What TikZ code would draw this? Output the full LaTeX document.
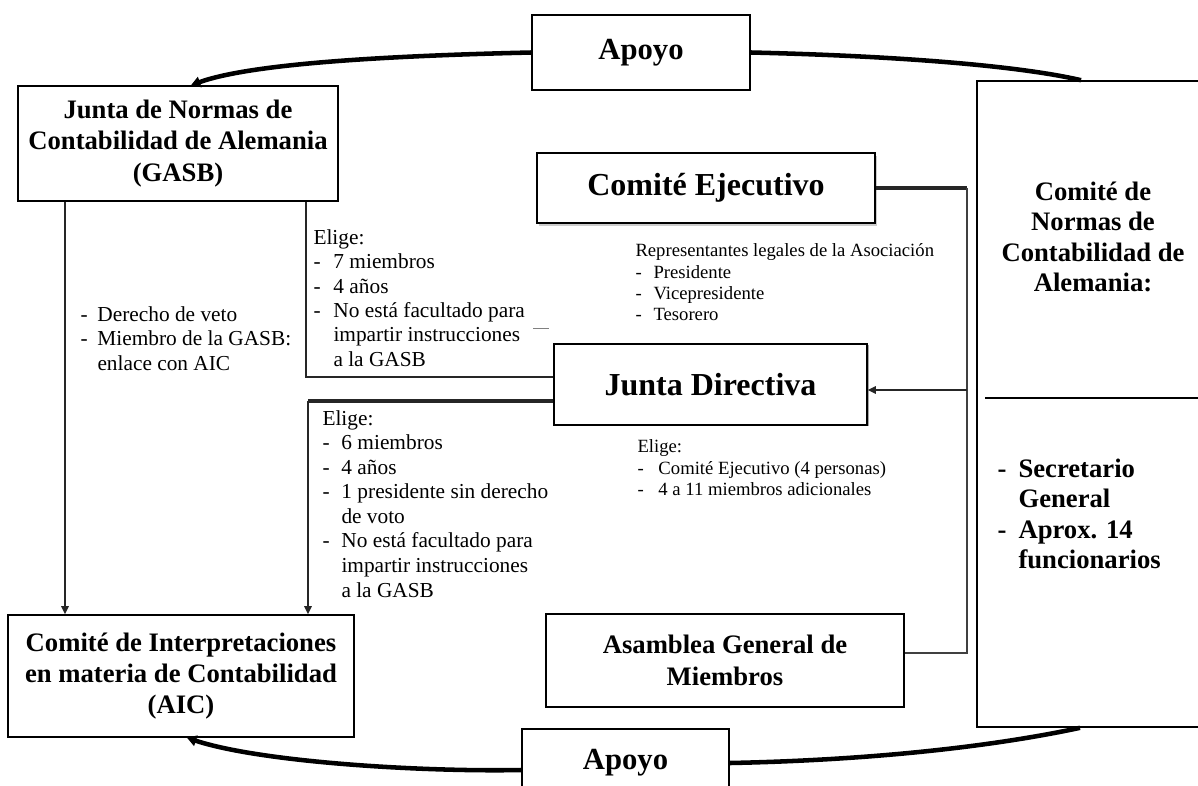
\documentclass[tikz,border=0pt]{standalone}
\usepackage{fontspec}
\setmainfont{Liberation Serif}
\usetikzlibrary{arrows.meta,shadows}

\tikzset{every picture/.style={line width=0.75pt}}
\tikzset{
  box/.style={draw, line width=1.2pt, fill=white, inner sep=2pt, align=center, font=\bfseries\fontsize{20}{23.5}\selectfont},
  bigbox/.style={box, font=\bfseries\fontsize{24}{28}\selectfont},
  note/.style={anchor=north west, inner sep=0pt, align=left, font=\fontsize{16}{18.3}\selectfont},
  smallnote/.style={note, font=\fontsize{14}{16}\selectfont},
  support/.style={line width=3.4pt},
  link/.style={line width=1.4pt, draw=black!85},
  tip/.style={-{Triangle[length=6pt,width=5.5pt]}},
  bigtip/.style={-{Triangle[length=7pt,width=8pt]}},
}
\newcommand{\ditem}[2][12.75pt]{\makebox[#1][l]{-}#2}

\begin{document}
\begin{tikzpicture}[x=0.75pt,y=0.75pt,yscale=-1,xscale=1]
    \useasboundingbox (0,0) rectangle (1198,785);

    % Boxes
    \draw (641,52.5) node [box, minimum width=163.5pt, minimum height=56.25pt, font=\bfseries\fontsize{23}{26}\selectfont] (apoyoT) {Apoyo};
    \draw (178,143.5) node [box, minimum width=240pt, minimum height=86.25pt] (gasb) {Junta de Normas de\\Contabilidad de Alemania\\(GASB)};
    \draw (706,188) node [bigbox, minimum width=253.5pt, minimum height=52.5pt, drop shadow={shadow xshift=1.5pt, shadow yshift=-2.5pt, fill=gray!80}] (ce) {Comité Ejecutivo};
    \draw (710.5,384.5) node [bigbox, minimum width=234.75pt, minimum height=60.75pt, drop shadow={shadow xshift=1.5pt, shadow yshift=-1pt, fill=black!70}] (jd) {Junta Directiva};
    \draw (725,660.5) node [box, minimum width=268.5pt, minimum height=69.75pt] (asam) {Asamblea General de\\Miembros};
    \draw (181,676) node [box, minimum width=259.5pt, minimum height=91.5pt] (aic) {Comité de Interpretaciones\\en materia de Contabilidad\\(AIC)};
    \draw (625.5,763) node [box, minimum width=155.25pt, minimum height=51pt, font=\bfseries\fontsize{23}{26}\selectfont] (apoyoB) {Apoyo};
    \draw (1097,404) node [box, minimum width=180pt, minimum height=484.5pt] (dsk) {};
    %Straight Lines (divider)
    \draw [line width=1.2pt] (985,398) -- (1198,398) ;

    % Text Node
    \draw (1093,237) node [inner sep=0pt, align=center, font=\bfseries\fontsize{20}{22.9}\selectfont] (dskName) {Comité de\\Normas de\\Contabilidad de\\Alemania:};
    % Text Node
    \draw (997,458) node [note, font=\bfseries\fontsize{20}{22.9}\selectfont] (dskStaff) {\ditem[15.75pt]{Secretario}\\\hspace*{15.75pt}General\\\ditem[15.75pt]{Aprox. 14}\\\hspace*{15.75pt}funcionarios};
    % Text Node
    \draw (80,306) node [note] (veto) {\ditem{Derecho de veto}\\\ditem{Miembro de la GASB:}\\\hspace*{12.75pt}enlace con AIC};
    % Text Node
    \draw (313,229) node [note] (elige1) {Elige:\\\ditem[15pt]{7 miembros}\\\ditem[15pt]{4 años}\\\ditem[15pt]{No está facultado para}\\\hspace*{15pt}impartir instrucciones\\\hspace*{15pt}a la GASB};
    % Text Node
    \draw (322,410) node [note, font=\fontsize{16}{18.4}\selectfont] (elige2) {Elige:\\\ditem[14.25pt]{6 miembros}\\\ditem[14.25pt]{4 años}\\\ditem[14.25pt]{1 presidente sin derecho}\\\hspace*{14.25pt}de voto\\\ditem[14.25pt]{No está facultado para}\\\hspace*{14.25pt}impartir instrucciones\\\hspace*{14.25pt}a la GASB};
    % Text Node
    \draw (635,243.5) node [smallnote] (reps) {Representantes legales de la Asociación\\\ditem[13.5pt]{Presidente}\\\ditem[13.5pt]{Vicepresidente}\\\ditem[13.5pt]{Tesorero}};
    % Text Node
    \draw (637,439.5) node [smallnote] (elige3) {Elige:\\\ditem[15.75pt]{Comité Ejecutivo (4 personas)}\\\ditem[15.75pt]{4 a 11 miembros adicionales}};

    % Coordinates
    \coordinate (gIn) at (191,0);
    \coordinate (rIn) at (1081,0);
    \coordinate (aIn) at (187,0);
    \coordinate (rOut) at (1080,0);
    \coordinate (bL) at (522,770);
    \coordinate (vetoX) at (65,0);
    \coordinate (gJ) at (306,377);
    \coordinate (jA) at (308,401);
    \coordinate (busTop) at (967,188);
    \coordinate (busJ) at (967,390);
    \coordinate (busB) at (967,653);

    %Curve Lines
    \draw [support, bigtip] (apoyoT.west) .. controls (380,56) and (250,64) .. (gasb.north -| gIn) ;
    %Curve Lines
    \draw [support] (apoyoT.east) .. controls (900,56) and (1020,66) .. (dsk.north -| rIn) ;
    %Curve Lines
    \draw [support, bigtip] (apoyoB.west |- bL) .. controls (420,772) and (260,762) .. (aic.south -| aIn) ;
    %Curve Lines
    \draw [support] (apoyoB.east) .. controls (880,760) and (1000,745) .. (dsk.south -| rOut) ;

    %Straight Lines
    \draw [link, tip] (gasb.south -| vetoX) -- (aic.north -| vetoX) ;
    %Straight Lines
    \draw [link] (gasb.south -| gJ) |- (jd.west |- gJ) ;
    %Straight Lines
    \draw [link, line width=3pt] (jd.west |- jA) -- (jA) ;
    \draw [link, tip] (jA) -- (aic.north -| jA) ;
    %Straight Lines
    \draw [link, line width=2.4pt] (ce.east) -- (busTop) ;
    \draw [link, line width=1.8pt, draw=black!75] (busTop) -- (busB) -- (asam.east |- busB) ;
    \draw [link, tip] (busJ) -- (jd.east |- busJ) ;
    %Straight Lines (stray mark)
    \draw [gray, line width=0.6pt] (533,328) -- (549,328) ;
\end{tikzpicture}
\end{document}
